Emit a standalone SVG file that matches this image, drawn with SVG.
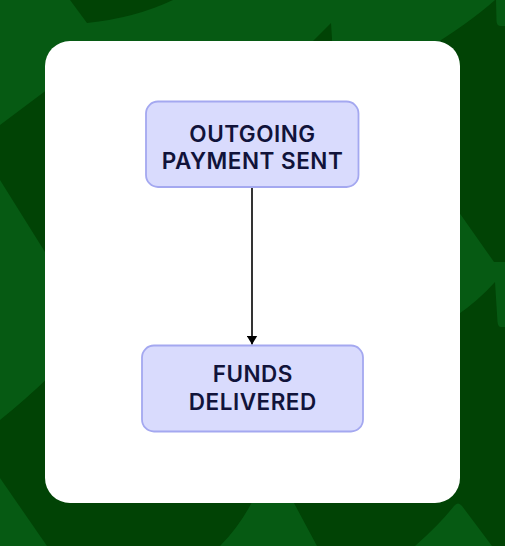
<svg xmlns="http://www.w3.org/2000/svg" width="505" height="546" viewBox="0 0 505 546">
  <defs>
    <style>
      .light { fill: #065a13; }
      .dark { fill: #014305; }
      .node rect { fill: #d9dbfd; stroke: #a4a8f0; stroke-width: 1.8; }
      .node text { font-family: Inter, "Liberation Sans", sans-serif; font-weight: 600; font-size: 22.5px; letter-spacing: 0.5px; fill: #11133a; text-anchor: middle; }
      .edge { stroke: #000; stroke-width: 1.6; fill: none; }
    </style>
    <marker id="arrow" markerWidth="9" markerHeight="11" refX="9" refY="5.5" orient="auto" markerUnits="userSpaceOnUse" viewBox="0 0 9 11">
      <path d="M0,0 L9,5.5 L0,11 Z" fill="#000"/>
    </marker>
  </defs>

  <g id="background">
    <rect class="light" x="0" y="0" width="505" height="546"/>
    <path class="dark" d="M70,0 L87,23 Q135,18 173,0 Z"/>
    <path class="dark" d="M331,23 L298,56 L333,56 Z"/>
    <path class="dark" d="M425,50 Q468,24 495,0 L505,0 L505,546 L455,546 L455,50 Z"/>
    <path class="dark" d="M0,125 L52,86 L52,264 L45,252 L0,180 Z"/>
    <path class="dark" d="M0,420 Q25,400 52,374 L52,480 L505,480 L505,546 L0,546 Z"/>
    <path class="light" d="M496,0 L505,0 L505,26 L501,26 Q496.5,26 496.5,21 Z"/>
    <path class="light" d="M456,208 L494,262 L505,262 L505,327 L501,327 Q498,327 497.5,322 L495,282 Q478,301 456,316 Z"/>
    <path class="light" d="M0,478 L47,546 L0,546 Z"/>
    <path class="light" d="M220,546 Q243,523 258,490 L287,490 L317,546 Z"/>
    <path class="light" d="M415,546 Q440,524 454,506 Q458,501 462,506 L492,546 Z"/>
  </g>

  <rect id="card" x="45" y="41" width="415" height="462" rx="25" fill="#ffffff"/>

  <g id="connectors">
    <line class="edge" x1="252" y1="187" x2="252" y2="344.5" marker-end="url(#arrow)"/>
  </g>

  <g id="node-outgoing" class="node">
    <rect x="146" y="101.5" width="212.5" height="85.5" rx="12"/>
    <text x="252.5" y="141.5">OUTGOING</text>
    <text x="252.5" y="168.5">PAYMENT SENT</text>
  </g>

  <g id="node-funds" class="node">
    <rect x="142" y="345.5" width="221" height="86" rx="12"/>
    <text x="252.8" y="382">FUNDS</text>
    <text x="252.8" y="410">DELIVERED</text>
  </g>
</svg>
